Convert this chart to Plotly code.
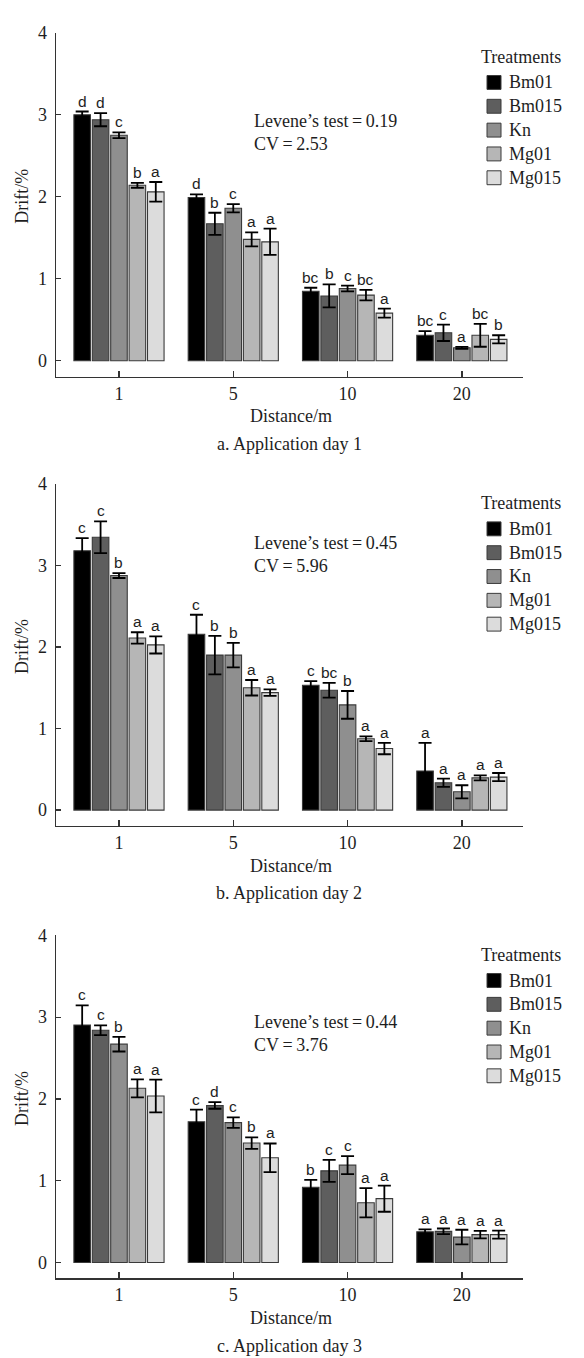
import plotly.graph_objects as go

# ---------------- data ----------------
distances = ["1", "5", "10", "20"]
treatments = ["Bm01", "Bm015", "Kn", "Mg01", "Mg015"]

day1_mean = {
    "Bm01":  [3.00, 1.99, 0.845, 0.31],
    "Bm015": [2.94, 1.67, 0.79, 0.34],
    "Kn":    [2.75, 1.86, 0.88, 0.157],
    "Mg01":  [2.14, 1.48, 0.80, 0.31],
    "Mg015": [2.06, 1.45, 0.58, 0.26],
}
day1_err = {
    "Bm01":  [0.04, 0.04, 0.045, 0.05],
    "Bm015": [0.08, 0.135, 0.14, 0.10],
    "Kn":    [0.035, 0.05, 0.035, 0.012],
    "Mg01":  [0.03, 0.085, 0.065, 0.14],
    "Mg015": [0.12, 0.16, 0.055, 0.05],
}
day1_letters = {
    "Bm01":  ["d", "d", "bc", "bc"],
    "Bm015": ["d", "b", "b", "c"],
    "Kn":    ["c", "c", "c", "a"],
    "Mg01":  ["b", "a", "bc", "bc"],
    "Mg015": ["a", "a", "a", "b"],
}

day2_mean = {
    "Bm01":  [3.18, 2.155, 1.53, 0.48],
    "Bm015": [3.345, 1.90, 1.47, 0.335],
    "Kn":    [2.875, 1.90, 1.29, 0.225],
    "Mg01":  [2.11, 1.50, 0.875, 0.395],
    "Mg015": [2.025, 1.44, 0.755, 0.405],
}
day2_err = {
    "Bm01":  [0.155, 0.24, 0.05, 0.345],
    "Bm015": [0.195, 0.235, 0.09, 0.05],
    "Kn":    [0.03, 0.15, 0.17, 0.08],
    "Mg01":  [0.07, 0.095, 0.03, 0.03],
    "Mg015": [0.105, 0.04, 0.07, 0.05],
}
day2_letters = {
    "Bm01":  ["c", "c", "c", "a"],
    "Bm015": ["c", "b", "bc", "a"],
    "Kn":    ["b", "b", "b", "a"],
    "Mg01":  ["a", "a", "a", "a"],
    "Mg015": ["a", "a", "a", "a"],
}

day3_mean = {
    "Bm01":  [2.905, 1.72, 0.92, 0.375],
    "Bm015": [2.84, 1.92, 1.12, 0.38],
    "Kn":    [2.67, 1.71, 1.19, 0.31],
    "Mg01":  [2.13, 1.46, 0.73, 0.34],
    "Mg015": [2.035, 1.28, 0.78, 0.34],
}
day3_err = {
    "Bm01":  [0.24, 0.15, 0.09, 0.03],
    "Bm015": [0.06, 0.04, 0.135, 0.035],
    "Kn":    [0.09, 0.065, 0.11, 0.09],
    "Mg01":  [0.11, 0.07, 0.18, 0.045],
    "Mg015": [0.20, 0.175, 0.16, 0.05],
}
day3_letters = {
    "Bm01":  ["c", "c", "b", "a"],
    "Bm015": ["c", "d", "c", "a"],
    "Kn":    ["b", "c", "c", "a"],
    "Mg01":  ["a", "b", "a", "a"],
    "Mg015": ["a", "a", "a", "a"],
}

levene = ["0.19", "0.45", "0.44"]
cv = ["2.53", "5.96", "3.76"]
panel_titles = ["a. Application day 1", "b. Application day 2", "c. Application day 3"]

# ---------------- style ----------------
W, H = 584, 1358
colors = ["#000000", "#5e5e5e", "#8f8f8f", "#b6b6b6", "#dcdcdc"]
outline = "#3a3a3a"
SERIF = "Liberation Serif, Times New Roman, serif"
SANS = "Liberation Sans, Arial, sans-serif"
TXT = "#1e1e1e"
BARGAP = 0.195
YMIN, YMAX = -0.194, 4.0
X_LEFT_PX, X_RIGHT_PX = 56, 523
XMIN, XMAX = -0.551, 3.535

def fx(px):
    return px / W

def fy(py):
    return 1 - py / H

# pixel geometry of each panel: (y of value 4, y of x-axis line, legend offset)
panels = [
    dict(top=23.0, bottom=369.3, leg=24.0, lev=88.7),
    dict(top=477.3, bottom=822.0, leg=19.4, lev=59.4),
    dict(top=932.3, bottom=1277.7, leg=19.4, lev=87.0),
]
datasets = [
    (day1_mean, day1_err, day1_letters),
    (day2_mean, day2_err, day2_letters),
    (day3_mean, day3_err, day3_letters),
]

fig = go.Figure()
annotations = []
shapes = []
xpos = list(range(len(distances)))
pitch = (1 - BARGAP) / len(treatments)

for p, (pan, (mean, err, lett)) in enumerate(zip(panels, datasets)):
    sfx = "" if p == 0 else str(p + 1)
    xa, ya = "x" + sfx, "y" + sfx
    for i, t in enumerate(treatments):
        fig.add_trace(go.Bar(
            x=xpos, y=mean[t], name=t, showlegend=False,
            xaxis=xa, yaxis=ya,
            marker=dict(color=colors[i], line=dict(color=outline, width=1.1)),
            error_y=dict(type="data", array=err[t], visible=True,
                         color="#000000", thickness=1.8, width=6.5),
            hoverinfo="skip",
        ))
        for g in xpos:
            annotations.append(dict(
                x=g + (i - 2) * pitch, y=mean[t][g] + err[t][g],
                xref=xa, yref=ya, text=lett[t][g], showarrow=False,
                yanchor="bottom", xanchor="center", yshift=0,
                font=dict(family=SANS, size=15.5, color=TXT),
            ))
    top, bot = pan["top"], pan["bottom"]
    dom = [fy(bot), fy(top)]
    fig.update_layout(**{
        "xaxis" + sfx: dict(
            domain=[fx(X_LEFT_PX), fx(X_RIGHT_PX)], anchor=ya, range=[XMIN, XMAX],
            tickvals=xpos, ticktext=distances, ticks="inside", ticklen=6,
            tickwidth=1.3, tickcolor="#333", showline=True, linecolor="#333",
            linewidth=1.4, showgrid=False, zeroline=False,
            tickfont=dict(family=SERIF, size=18, color=TXT),
        ),
        "yaxis" + sfx: dict(
            domain=dom, anchor=xa, range=[YMIN, YMAX],
            tickvals=[0, 1, 2, 3, 4], ticks="inside", ticklen=5,
            tickwidth=1.3, tickcolor="#333", showline=True, linecolor="#333",
            linewidth=1.4, showgrid=False, zeroline=False,
            tickfont=dict(family=SERIF, size=18, color=TXT),
            ticklabelstandoff=4,
        ),
    })
    # y title
    annotations.append(dict(
        x=fx(22), y=2, xref="paper", yref=ya, text="Drift/%", textangle=-90,
        showarrow=False, xanchor="center", yanchor="middle",
        font=dict(family=SERIF, size=18, color=TXT),
    ))
    # x title and panel caption
    annotations.append(dict(
        x=fx(291), y=fy(bot + 40), xref="paper", yref="paper", text="Distance/m",
        showarrow=False, xanchor="center", yanchor="middle",
        font=dict(family=SERIF, size=18, color=TXT),
    ))
    annotations.append(dict(
        x=fx(289), y=fy(bot + 68), xref="paper", yref="paper", text=panel_titles[p],
        showarrow=False, xanchor="center", yanchor="middle",
        font=dict(family=SERIF, size=18, color=TXT),
    ))
    # Levene / CV text
    annotations.append(dict(
        x=fx(252), y=fy(top + pan["lev"]), xref="paper", yref="paper",
        text="Levene\u2019s test\u2009=\u2009" + levene[p], showarrow=False,
        xanchor="left", yanchor="middle",
        font=dict(family=SERIF, size=18, color=TXT),
    ))
    annotations.append(dict(
        x=fx(252), y=fy(top + pan["lev"] + 23.5), xref="paper", yref="paper",
        text="CV\u2009=\u2009" + cv[p], showarrow=False,
        xanchor="left", yanchor="middle",
        font=dict(family=SERIF, size=18, color=TXT),
    ))
    # legend (drawn per panel)
    ly = top + pan["leg"]
    annotations.append(dict(
        x=fx(479), y=fy(ly), xref="paper", yref="paper", text="Treatments",
        showarrow=False, xanchor="left", yanchor="middle",
        font=dict(family=SERIF, size=18, color=TXT),
    ))
    for i, t in enumerate(treatments):
        cy = ly + 26 + 24 * i
        shapes.append(dict(
            type="rect", xref="paper", yref="paper",
            x0=fx(487), x1=fx(501), y0=fy(cy + 7), y1=fy(cy - 7),
            fillcolor=colors[i], line=dict(color=outline, width=1),
        ))
        annotations.append(dict(
            x=fx(507), y=fy(cy), xref="paper", yref="paper", text=t,
            showarrow=False, xanchor="left", yanchor="middle",
            font=dict(family=SERIF, size=18, color=TXT),
        ))

fig.update_layout(
    width=W, height=H, barmode="group", bargap=BARGAP, bargroupgap=0.1,
    margin=dict(l=0, r=0, t=0, b=0),
    paper_bgcolor="white", plot_bgcolor="white",
    annotations=annotations, shapes=shapes, showlegend=False,
    hovermode=False,
)

fig.write_html(
    "out.html",
    config={"displayModeBar": False, "staticPlot": True},
    post_script="document.body.style.margin='0';document.body.style.overflow='hidden';",
)
